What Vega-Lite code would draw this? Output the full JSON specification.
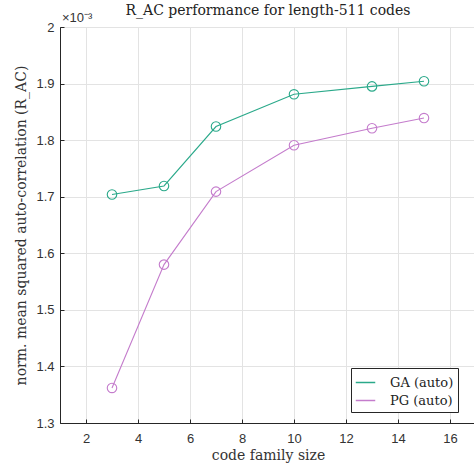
{
  "$schema": "https://vega.github.io/schema/vega-lite/v6.json",
  "width": 416,
  "height": 396,
  "autosize": {"type": "none"},
  "padding": {"left": 60, "top": 27, "right": 0, "bottom": 51},
  "background": "white",
  "title": {
    "text": "R_AC performance for length-511 codes",
    "font": "DejaVu Serif",
    "fontSize": 14,
    "fontWeight": "normal",
    "color": "#222222",
    "anchor": "middle",
    "offset": -6
  },
  "datasets": {
    "series": [
      {"size": 3, "rac": 1.704, "method": "GA (auto)"},
      {"size": 5, "rac": 1.719, "method": "GA (auto)"},
      {"size": 7, "rac": 1.824, "method": "GA (auto)"},
      {"size": 10, "rac": 1.881, "method": "GA (auto)"},
      {"size": 13, "rac": 1.895, "method": "GA (auto)"},
      {"size": 15, "rac": 1.904, "method": "GA (auto)"},
      {"size": 3, "rac": 1.362, "method": "PG (auto)"},
      {"size": 5, "rac": 1.580, "method": "PG (auto)"},
      {"size": 7, "rac": 1.709, "method": "PG (auto)"},
      {"size": 10, "rac": 1.791, "method": "PG (auto)"},
      {"size": 13, "rac": 1.821, "method": "PG (auto)"},
      {"size": 15, "rac": 1.839, "method": "PG (auto)"}
    ],
    "exponent": [{"size": 1, "rac": 2, "label": "×10⁻³"}]
  },
  "layer": [
    {
      "data": {"name": "series"},
      "mark": {
        "type": "line",
        "strokeWidth": 1.1,
        "point": {"filled": false, "size": 90, "strokeWidth": 1.1},
        "clip": false
      },
      "encoding": {
        "x": {
          "field": "size",
          "type": "quantitative",
          "scale": {"domain": [1, 17], "nice": false, "zero": false},
          "axis": {
            "title": "code family size",
            "values": [2, 4, 6, 8, 10, 12, 14, 16]
          }
        },
        "y": {
          "field": "rac",
          "type": "quantitative",
          "scale": {"domain": [1.3, 2], "nice": false, "zero": false},
          "axis": {
            "title": "norm. mean squared auto-correlation (R_AC)",
            "values": [1.3, 1.4, 1.5, 1.6, 1.7, 1.8, 1.9, 2],
            "labelExpr": "format(datum.value, '.2~g')"
          }
        },
        "color": {
          "field": "method",
          "type": "nominal",
          "scale": {"domain": ["GA (auto)", "PG (auto)"], "range": ["#2aa98a", "#c47ccc"]},
          "legend": {
            "title": null,
            "orient": "none",
            "legendX": 291,
            "legendY": 341,
            "symbolType": "stroke",
            "symbolSize": 380,
            "symbolStrokeWidth": 1.5,
            "labelFont": "DejaVu Serif",
            "labelFontSize": 13,
            "labelColor": "#222222",
            "labelOffset": 14,
            "strokeColor": "#262626",
            "fillColor": "white",
            "padding": 4,
            "rowPadding": 0
          }
        }
      }
    },
    {
      "data": {"name": "exponent"},
      "mark": {"type": "text", "align": "left", "baseline": "bottom", "dx": 2, "dy": -2, "font": "Liberation Sans", "fontSize": 13, "color": "#333333", "clip": false},
      "encoding": {
        "x": {"field": "size", "type": "quantitative"},
        "y": {"field": "rac", "type": "quantitative"},
        "text": {"field": "label"}
      }
    }
  ],
  "config": {
    "view": {"stroke": "#262626", "strokeWidth": 1},
    "axis": {
      "grid": true,
      "gridColor": "#e3e3e3",
      "gridWidth": 1,
      "domainColor": "#262626",
      "tickColor": "#262626",
      "tickSize": -4,
      "labelFont": "Liberation Sans",
      "labelFontSize": 13,
      "labelColor": "#333333",
      "titleFont": "DejaVu Serif",
      "titleFontSize": 14,
      "titleFontWeight": "normal",
      "titleColor": "#333333"
    },
    "axisX": {"labelPadding": 13, "titlePadding": 3},
    "axisY": {"labelPadding": 10, "titlePadding": 7}
  }
}
